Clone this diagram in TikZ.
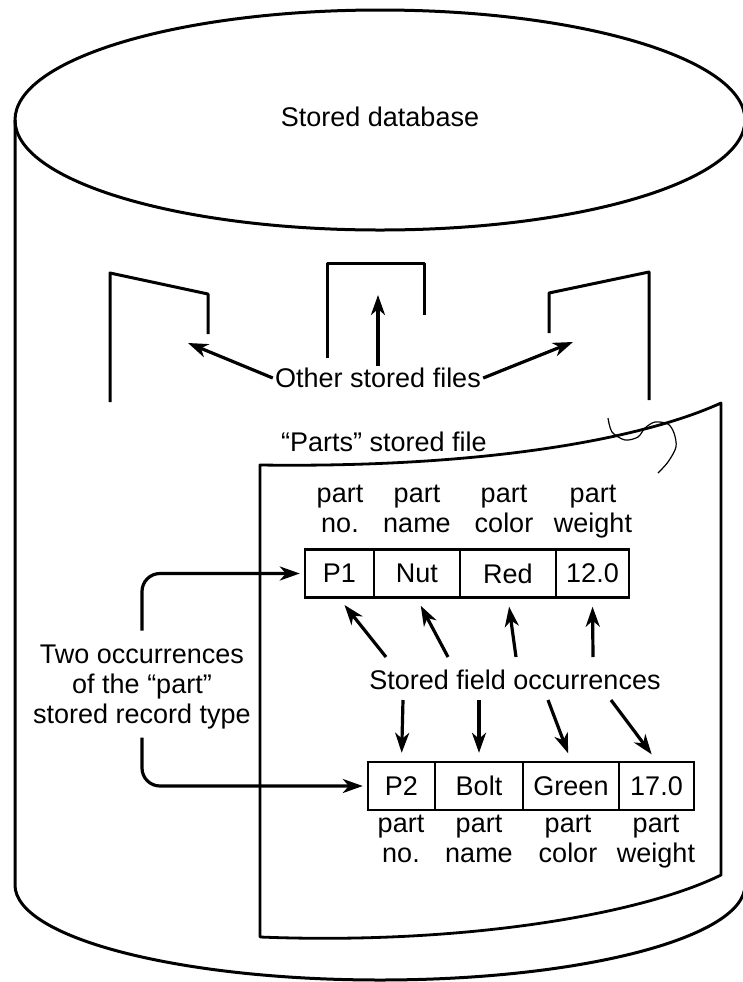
\documentclass[tikz,border=0pt]{standalone}
\usepackage{fontspec}
\setmainfont{Liberation Sans}
\usetikzlibrary{arrows.meta,positioning,calc}

\begin{document}
\begin{tikzpicture}[x=0.5pt,y=-0.5pt,
  txt/.style={font=\fontsize{13.5}{15}\selectfont,inner sep=1pt,align=center},
  cell/.style={draw,line width=1.2pt,minimum height=24pt,inner sep=0pt,
               font=\fontsize{13.5}{15}\selectfont},
  outline/.style={line width=1.5pt,line join=round},
  arr/.style={line width=1.6pt,-{Stealth[length=10pt,width=7pt,inset=3pt]}}]

\useasboundingbox (0,0) rectangle (743,982);

% cylinder
\draw[outline] (380,120) ellipse [x radius=182.5pt, y radius=55pt];
\draw[outline] (15,120) -- (15,885)
   arc[start angle=180, end angle=360, x radius=182.5pt, y radius=47.5pt]
   -- (745,120);

% other stored files
\draw[outline] (110,402) -- (110,273) -- (208,294) -- (208,334);
\draw[outline] (327,358) -- (327,263) -- (424,263) -- (424,315);
\draw[outline] (549,333) -- (549,293) -- (649,272) -- (649,400);

% the "Parts" sheet
\draw[line width=1.4pt,line join=round] (260,465)
   .. controls (480,468) and (640,440) .. (721,403) -- (721,875)
   .. controls (640,915) and (460,945) .. (260,937) -- cycle;
\draw[line width=0.6pt] plot[smooth] coordinates {(608,418) (612,432) (625,440)
   (638,437) (645,428) (655,422) (668,424) (674,433) (676,447) (668,462) (658,473)};

\node[txt] (dbname) at (380,117) {Stored database};
\node[txt] (others) at (378,378) {Other stored files};
\node[txt] (partsname) at (384,442) {“Parts” stored file};
\node[txt] (fieldocc) at (515,680) {Stored field occurrences};
\node[txt] (recocc) at (142,687) {Two occurrences\\of the “part”\\stored record type};

% first record
\node[cell,minimum width=34.5pt] (p1) at (339.5,573.5) {P1};
\node[cell,minimum width=43pt] (nut) at (417,573.5) {Nut};
\node[cell,minimum width=48pt] (red) at (508,573.5) {Red};
\node[cell,minimum width=36.5pt] (w1) at (592.5,573.5) {12.0};
\node[txt] (lno1) at (340,513) {part\\no.\strut};
\node[txt] (lname1) at (417,513) {part\\name\strut};
\node[txt] (lcol1) at (504,513) {part\\color\strut};
\node[txt] (lwt1) at (593,513) {part\\weight\strut};

% second record
\node[cell,minimum width=33.5pt] (p2) at (401.5,786) {P2};
\node[cell,minimum width=44pt] (bolt) at (479,786) {Bolt};
\node[cell,minimum width=48pt] (green) at (571,786) {Green};
\node[cell,minimum width=37.5pt] (w2) at (656.5,786) {17.0};
\node[txt] (lno2) at (401,843) {part\\no.\strut};
\node[txt] (lname2) at (479,843) {part\\name\strut};
\node[txt] (lcol2) at (568,843) {part\\color\strut};
\node[txt] (lwt2) at (656,843) {part\\weight\strut};

% arrows to the other files
\coordinate (f1) at (188,343);
\coordinate (f2) at (378,295);
\coordinate (f3) at (573,342);
\draw[arr] (others.west) -- (f1);
\draw[arr] (others.north) -- (f2);
\draw[arr] (others.east) -- (f3);

% field occurrences
\coordinate (u1) at (386,657);
\coordinate (u2) at (448,657);
\coordinate (u3) at (516,657);
\coordinate (u4) at (593,657);
\draw[arr,shorten >=4pt] (u1) -- (p1.south);
\draw[arr,shorten >=4pt] (u2) -- (nut.south);
\draw[arr,shorten >=4pt] (u3) -- (red.south);
\draw[arr,shorten >=4pt] (u4) -- (w1.south);
\coordinate (d1) at (403,700);
\coordinate (d2) at (479,700);
\coordinate (d3) at (548,700);
\coordinate (d4) at (611,700);
\draw[arr,shorten >=4pt] (d1) -- (p2.north);
\draw[arr,shorten >=4pt] (d2) -- (bolt.north);
\draw[arr,shorten >=4pt] (d3) -- (green.north);
\draw[arr,shorten >=4pt] (d4) -- (w2.north);

% record occurrences
\draw[arr,rounded corners=9pt,shorten <=6pt,shorten >=2pt] (recocc.north) |- (p1.west);
\draw[arr,rounded corners=9pt,shorten <=3pt,shorten >=2pt] (recocc.south) |- (p2.west);
\end{tikzpicture}
\end{document}
